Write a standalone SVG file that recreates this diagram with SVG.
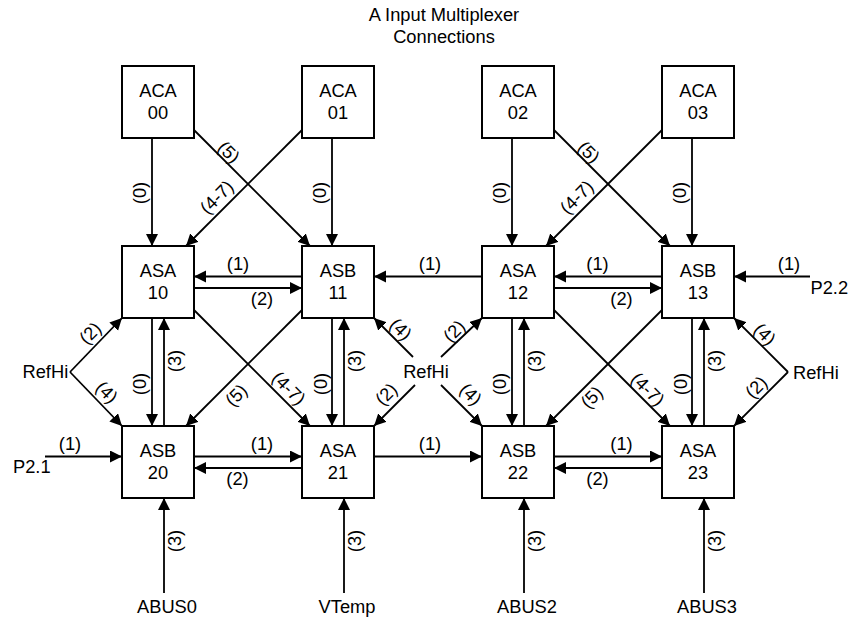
<svg xmlns="http://www.w3.org/2000/svg" width="852" height="621" viewBox="0 0 852 621">
<style>
text{font-family:"Liberation Sans",Arial,sans-serif;font-size:18.3px;fill:#000}
.m{text-anchor:middle}
.box{fill:#fff;stroke:#000;stroke-width:2}
.c{fill:none;stroke:#000;stroke-width:1.8;marker-end:url(#ah)}
</style>
<defs>
<marker id="ah" markerUnits="userSpaceOnUse" markerWidth="13" markerHeight="13" refX="12" refY="6" orient="auto">
<path d="M0,0 L12,6 L0,12 z" fill="#000"/>
</marker>
</defs>
<rect width="852" height="621" fill="#fff"/>
<g id="title">
<text class="m" x="444" y="21">A Input Multiplexer</text>
<text class="m" x="444" y="42.5">Connections</text>
</g>
<g id="connectors">
<line class="c" x1="152" y1="138" x2="152" y2="246"/>
<line class="c" x1="194" y1="130" x2="310" y2="246"/>
<line class="c" x1="302" y1="130" x2="186" y2="246"/>
<line class="c" x1="332" y1="138" x2="332" y2="246"/>
<line class="c" x1="512" y1="138" x2="512" y2="246"/>
<line class="c" x1="554" y1="130" x2="670" y2="246"/>
<line class="c" x1="662" y1="130" x2="546" y2="246"/>
<line class="c" x1="692" y1="138" x2="692" y2="246"/>
<line class="c" x1="302" y1="276.5" x2="194" y2="276.5"/>
<line class="c" x1="194" y1="288" x2="302" y2="288"/>
<line class="c" x1="482" y1="276.5" x2="374" y2="276.5"/>
<line class="c" x1="662" y1="276.5" x2="554" y2="276.5"/>
<line class="c" x1="554" y1="288" x2="662" y2="288"/>
<line class="c" x1="810" y1="276.5" x2="734" y2="276.5"/>
<line class="c" x1="152" y1="318" x2="152" y2="426"/>
<line class="c" x1="164" y1="426" x2="164" y2="318"/>
<line class="c" x1="332" y1="318" x2="332" y2="426"/>
<line class="c" x1="344" y1="426" x2="344" y2="318"/>
<line class="c" x1="512" y1="318" x2="512" y2="426"/>
<line class="c" x1="524" y1="426" x2="524" y2="318"/>
<line class="c" x1="692" y1="318" x2="692" y2="426"/>
<line class="c" x1="704" y1="426" x2="704" y2="318"/>
<line class="c" x1="194" y1="310" x2="310" y2="426"/>
<line class="c" x1="302" y1="310" x2="186" y2="426"/>
<line class="c" x1="554" y1="310" x2="670" y2="426"/>
<line class="c" x1="662" y1="310" x2="546" y2="426"/>
<line class="c" x1="70" y1="372" x2="122" y2="318"/>
<line class="c" x1="70" y1="372" x2="122" y2="426"/>
<line class="c" x1="413" y1="357" x2="374" y2="318"/>
<line class="c" x1="441" y1="357" x2="482" y2="318"/>
<line class="c" x1="415" y1="385" x2="374" y2="426"/>
<line class="c" x1="441" y1="385" x2="482" y2="426"/>
<line class="c" x1="788" y1="372" x2="734" y2="318"/>
<line class="c" x1="788" y1="372" x2="734" y2="426"/>
<line class="c" x1="45" y1="456.5" x2="122" y2="456.5"/>
<line class="c" x1="194" y1="456.5" x2="302" y2="456.5"/>
<line class="c" x1="302" y1="468" x2="194" y2="468"/>
<line class="c" x1="374" y1="456.5" x2="482" y2="456.5"/>
<line class="c" x1="554" y1="456.5" x2="662" y2="456.5"/>
<line class="c" x1="662" y1="468" x2="554" y2="468"/>
<line class="c" x1="164" y1="593" x2="164" y2="498"/>
<line class="c" x1="344" y1="593" x2="344" y2="498"/>
<line class="c" x1="524" y1="593" x2="524" y2="498"/>
<line class="c" x1="704" y1="593" x2="704" y2="498"/>
</g>
<g id="connector-labels">
<text class="m" transform="translate(141,193) rotate(-90)" y="5">(0)</text>
<text class="m" transform="translate(228,153) rotate(45)" y="5">(5)</text>
<text class="m" transform="translate(217.5,198) rotate(-45)" y="5">(4-7)</text>
<text class="m" transform="translate(321,193) rotate(-90)" y="5">(0)</text>
<text class="m" transform="translate(501,193) rotate(-90)" y="5">(0)</text>
<text class="m" transform="translate(588,153) rotate(45)" y="5">(5)</text>
<text class="m" transform="translate(577.5,198) rotate(-45)" y="5">(4-7)</text>
<text class="m" transform="translate(681,193) rotate(-90)" y="5">(0)</text>
<text class="m" x="238" y="270">(1)</text>
<text class="m" x="262" y="304.5">(2)</text>
<text class="m" x="430" y="270">(1)</text>
<text class="m" x="597.5" y="270">(1)</text>
<text class="m" x="621.5" y="304.5">(2)</text>
<text class="m" x="789" y="270">(1)</text>
<text class="m" transform="translate(141,384) rotate(-90)" y="5">(0)</text>
<text class="m" transform="translate(176,361) rotate(-90)" y="5">(3)</text>
<text class="m" transform="translate(322,384) rotate(-90)" y="5">(0)</text>
<text class="m" transform="translate(356,361) rotate(-90)" y="5">(3)</text>
<text class="m" transform="translate(501,384) rotate(-90)" y="5">(0)</text>
<text class="m" transform="translate(536,361) rotate(-90)" y="5">(3)</text>
<text class="m" transform="translate(682,384) rotate(-90)" y="5">(0)</text>
<text class="m" transform="translate(716,361) rotate(-90)" y="5">(3)</text>
<text class="m" transform="translate(288,389) rotate(45)" y="5">(4-7)</text>
<text class="m" transform="translate(237,396) rotate(-45)" y="5">(5)</text>
<text class="m" transform="translate(647,390) rotate(45)" y="5">(4-7)</text>
<text class="m" transform="translate(592.5,398) rotate(-45)" y="5">(5)</text>
<text class="m" transform="translate(91,334) rotate(-45)" y="5">(2)</text>
<text class="m" transform="translate(106,393) rotate(45)" y="5">(4)</text>
<text class="m" transform="translate(400,330) rotate(45)" y="5">(4)</text>
<text class="m" transform="translate(455,332) rotate(-45)" y="5">(2)</text>
<text class="m" transform="translate(387,395) rotate(-45)" y="5">(2)</text>
<text class="m" transform="translate(470,395) rotate(45)" y="5">(4)</text>
<text class="m" transform="translate(764,335) rotate(45)" y="5">(4)</text>
<text class="m" transform="translate(757,388) rotate(-45)" y="5">(2)</text>
<text class="m" x="70" y="449.5">(1)</text>
<text class="m" x="262" y="450">(1)</text>
<text class="m" x="237.5" y="485">(2)</text>
<text class="m" x="430" y="450">(1)</text>
<text class="m" x="621.5" y="450">(1)</text>
<text class="m" x="597.5" y="485">(2)</text>
<text class="m" transform="translate(176,541) rotate(-90)" y="5">(3)</text>
<text class="m" transform="translate(356,541) rotate(-90)" y="5">(3)</text>
<text class="m" transform="translate(536,541) rotate(-90)" y="5">(3)</text>
<text class="m" transform="translate(716,541) rotate(-90)" y="5">(3)</text>
</g>
<g id="ACA00"><rect class="box" x="122" y="66" width="72" height="72"/><text class="m" x="158" y="97">ACA</text><text class="m" x="158" y="119">00</text></g>
<g id="ACA01"><rect class="box" x="302" y="66" width="72" height="72"/><text class="m" x="338" y="97">ACA</text><text class="m" x="338" y="119">01</text></g>
<g id="ACA02"><rect class="box" x="482" y="66" width="72" height="72"/><text class="m" x="518" y="97">ACA</text><text class="m" x="518" y="119">02</text></g>
<g id="ACA03"><rect class="box" x="662" y="66" width="72" height="72"/><text class="m" x="698" y="97">ACA</text><text class="m" x="698" y="119">03</text></g>
<g id="ASA10"><rect class="box" x="122" y="246" width="72" height="72"/><text class="m" x="158" y="277">ASA</text><text class="m" x="158" y="299">10</text></g>
<g id="ASB11"><rect class="box" x="302" y="246" width="72" height="72"/><text class="m" x="338" y="277">ASB</text><text class="m" x="338" y="299">11</text></g>
<g id="ASA12"><rect class="box" x="482" y="246" width="72" height="72"/><text class="m" x="518" y="277">ASA</text><text class="m" x="518" y="299">12</text></g>
<g id="ASB13"><rect class="box" x="662" y="246" width="72" height="72"/><text class="m" x="698" y="277">ASB</text><text class="m" x="698" y="299">13</text></g>
<g id="ASB20"><rect class="box" x="122" y="426" width="72" height="72"/><text class="m" x="158" y="457">ASB</text><text class="m" x="158" y="479">20</text></g>
<g id="ASA21"><rect class="box" x="302" y="426" width="72" height="72"/><text class="m" x="338" y="457">ASA</text><text class="m" x="338" y="479">21</text></g>
<g id="ASB22"><rect class="box" x="482" y="426" width="72" height="72"/><text class="m" x="518" y="457">ASB</text><text class="m" x="518" y="479">22</text></g>
<g id="ASA23"><rect class="box" x="662" y="426" width="72" height="72"/><text class="m" x="698" y="457">ASA</text><text class="m" x="698" y="479">23</text></g>
<g id="RefHi-left"><text x="22.5" y="378">RefHi</text></g>
<g id="RefHi-mid"><text class="m" x="426" y="377.5">RefHi</text></g>
<g id="RefHi-right"><text x="793" y="379">RefHi</text></g>
<g id="P2.1"><text x="13" y="473">P2.1</text></g>
<g id="P2.2"><text x="810.5" y="293.5">P2.2</text></g>
<g id="ABUS0"><text class="m" x="167" y="612.5">ABUS0</text></g>
<g id="VTemp"><text class="m" x="347" y="612.5">VTemp</text></g>
<g id="ABUS2"><text class="m" x="527" y="612.5">ABUS2</text></g>
<g id="ABUS3"><text class="m" x="707" y="612.5">ABUS3</text></g>
</svg>
